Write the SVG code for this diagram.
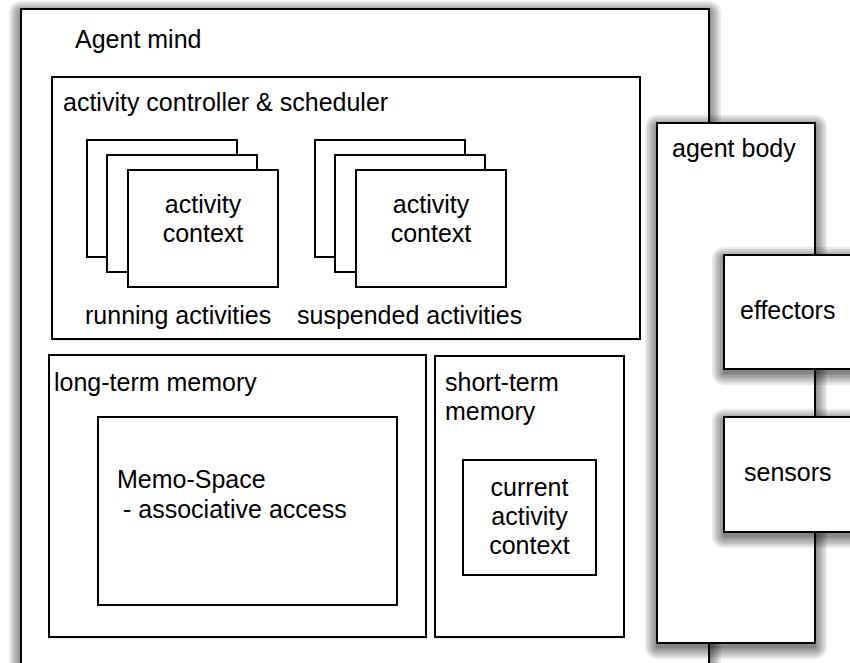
<svg xmlns="http://www.w3.org/2000/svg" width="850" height="663" viewBox="0 0 850 663">
  <style>
    .box { fill: #fff; stroke: #000; stroke-width: 2; }
    .sh { fill: #000; fill-opacity: 0.085; }
    .shs { fill: #000; fill-opacity: 0.18; }
    .lbl { font-family: "Liberation Sans", Arial, Helvetica, sans-serif; font-size: 25px; fill: #000; }
    .mid { text-anchor: middle; }
  </style>
  <rect width="850" height="663" fill="#fff"/>

  <!-- outer frame: the mind, with a layered soft shadow -->
  <g id="agent-mind">
    <rect class="sh" x="9" y="1" width="712" height="704" rx="12"/>
    <rect class="sh" x="11" y="3" width="708" height="700" rx="10"/>
    <rect class="sh" x="13" y="5" width="704" height="696" rx="8"/>
    <rect class="sh" x="15" y="7" width="700" height="692" rx="6"/>
    <rect class="sh" x="17" y="9" width="696" height="688" rx="4"/>
    <rect class="sh" x="19" y="11" width="692" height="684" rx="2"/>
    <rect class="sh" x="20" y="12" width="690" height="682"/>
    <rect class="box" x="21" y="9" width="688" height="680"/>
    <text class="lbl" x="75" y="48">Agent mind</text>
  </g>

  <!-- scheduler with two stacks of contexts -->
  <g id="activity-controller">
    <rect class="shs" x="52" y="78.5" width="589" height="262"/>
    <rect class="box" x="52" y="77" width="588" height="262"/>
    <text class="lbl" x="63" y="111">activity controller &amp; scheduler</text>
  </g>

  <g id="running-activities">
    <rect class="box" x="87" y="140" width="150" height="117"/>
    <rect class="box" x="107" y="155" width="150" height="117"/>
    <rect class="box" x="128" y="170" width="150" height="117"/>
    <text class="lbl mid" x="203" y="213">activity</text>
    <text class="lbl mid" x="203" y="242">context</text>
    <text class="lbl" x="85" y="324">running activities</text>
  </g>

  <g id="suspended-activities">
    <rect class="box" x="315" y="140" width="150" height="117"/>
    <rect class="box" x="335" y="155" width="150" height="117"/>
    <rect class="box" x="356" y="170" width="150" height="117"/>
    <text class="lbl mid" x="431" y="213">activity</text>
    <text class="lbl mid" x="431" y="242">context</text>
    <text class="lbl" x="297" y="324">suspended activities</text>
  </g>

  <!-- memories -->
  <g id="long-term-memory">
    <rect class="shs" x="49" y="356.5" width="378" height="282"/>
    <rect class="box" x="49" y="355" width="377" height="282"/>
    <text class="lbl" x="54" y="391">long-term memory</text>
  </g>

  <g id="memo-space">
    <rect class="box" x="98" y="417" width="299" height="188"/>
    <text class="lbl" x="117" y="488">Memo-Space</text>
    <text class="lbl" x="123" y="518">- associative access</text>
  </g>

  <g id="short-term-memory">
    <rect class="shs" x="435" y="357.5" width="190" height="281"/>
    <rect class="box" x="435" y="356" width="189" height="281"/>
    <text class="lbl" x="445" y="391">short-term</text>
    <text class="lbl" x="445" y="420">memory</text>
  </g>

  <g id="current-activity-context">
    <rect class="box" x="463" y="460" width="133" height="115"/>
    <text class="lbl mid" x="529.5" y="496">current</text>
    <text class="lbl mid" x="529.5" y="525">activity</text>
    <text class="lbl mid" x="529.5" y="554">context</text>
  </g>

  <!-- body overlapping the mind's right edge -->
  <g id="agent-body">
    <rect class="sh" x="645" y="115" width="182" height="544" rx="12"/>
    <rect class="sh" x="647" y="117" width="178" height="540" rx="10"/>
    <rect class="sh" x="649" y="119" width="174" height="536" rx="8"/>
    <rect class="sh" x="651" y="121" width="170" height="532" rx="6"/>
    <rect class="sh" x="653" y="123" width="166" height="528" rx="4"/>
    <rect class="sh" x="655" y="125" width="162" height="524" rx="2"/>
    <rect class="sh" x="656" y="126" width="160" height="522"/>
    <rect class="box" x="657" y="123" width="158" height="520"/>
    <text class="lbl" x="672" y="157">agent body</text>
  </g>

  <g id="effectors">
    <rect class="sh" x="712" y="247" width="174" height="138" rx="12"/>
    <rect class="sh" x="714" y="249" width="170" height="134" rx="10"/>
    <rect class="sh" x="716" y="251" width="166" height="130" rx="8"/>
    <rect class="sh" x="718" y="253" width="162" height="126" rx="6"/>
    <rect class="sh" x="720" y="255" width="158" height="122" rx="4"/>
    <rect class="sh" x="722" y="257" width="154" height="118" rx="2"/>
    <rect class="sh" x="723" y="258" width="152" height="116"/>
    <rect class="box" x="724" y="255" width="150" height="114"/>
    <text class="lbl" x="740" y="319">effectors</text>
  </g>

  <g id="sensors">
    <rect class="sh" x="712" y="409" width="174" height="139" rx="12"/>
    <rect class="sh" x="714" y="411" width="170" height="135" rx="10"/>
    <rect class="sh" x="716" y="413" width="166" height="131" rx="8"/>
    <rect class="sh" x="718" y="415" width="162" height="127" rx="6"/>
    <rect class="sh" x="720" y="417" width="158" height="123" rx="4"/>
    <rect class="sh" x="722" y="419" width="154" height="119" rx="2"/>
    <rect class="sh" x="723" y="420" width="152" height="117"/>
    <rect class="box" x="724" y="417" width="150" height="115"/>
    <text class="lbl" x="744" y="481">sensors</text>
  </g>

  <g id="connectors"/>
</svg>
